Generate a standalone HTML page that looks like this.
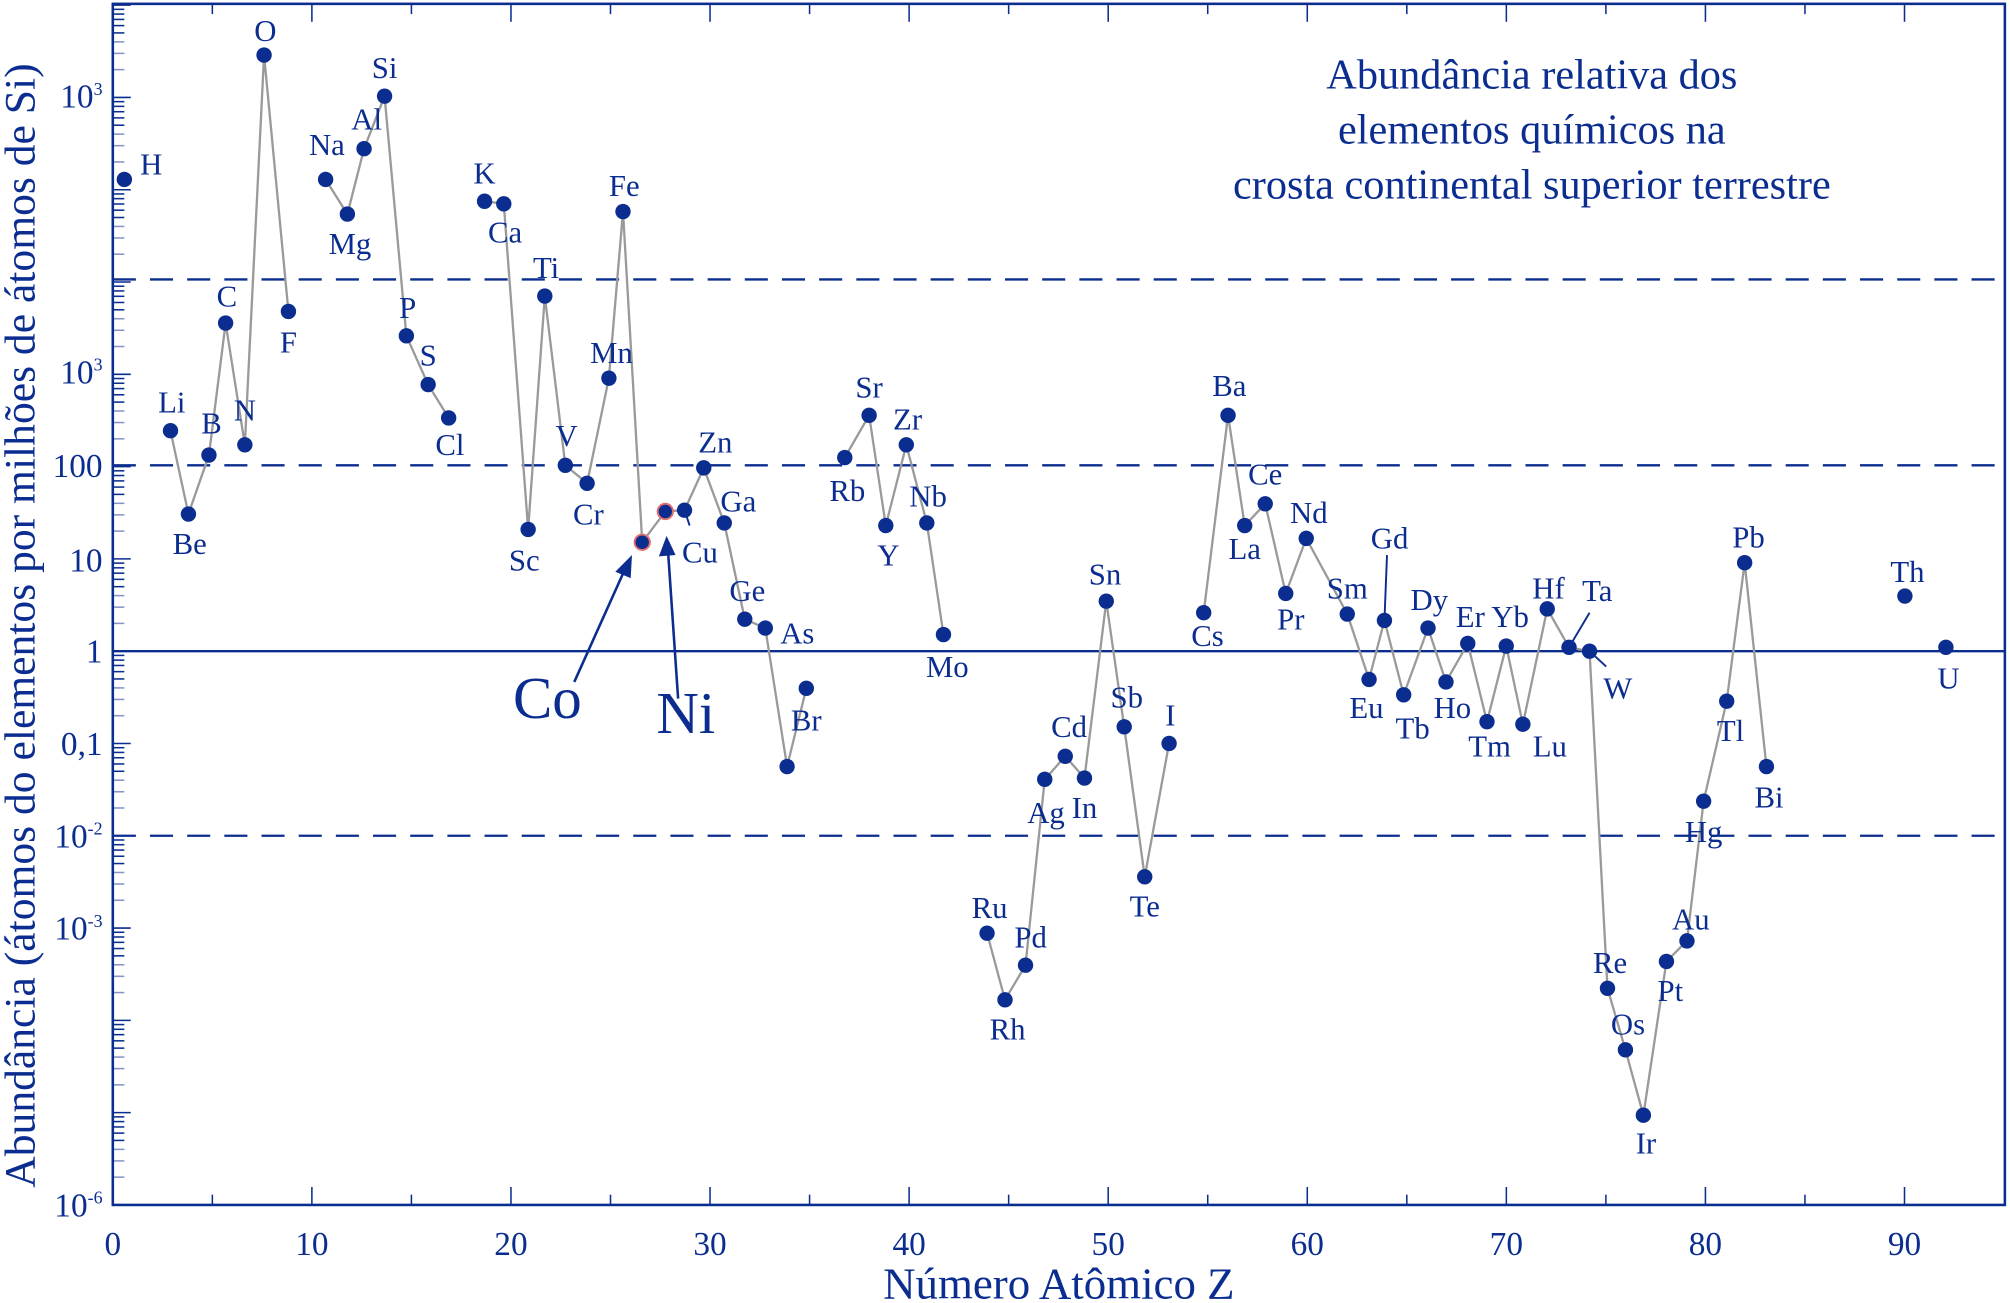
<!DOCTYPE html>
<html><head><meta charset="utf-8"><style>
html,body{margin:0;padding:0;background:#fff;}
svg{display:block;}
text{font-family:"Liberation Serif",serif;fill:#0b2d8f;}
</style></head><body>
<svg width="2010" height="1303" viewBox="0 0 1568 1016.5" preserveAspectRatio="none" xmlns="http://www.w3.org/2000/svg">
<g stroke="#0b2d8f" fill="none">
<rect x="88" y="3" width="1476" height="937" stroke-width="2"/>
<line x1="88" y1="218" x2="1564" y2="218" stroke-width="1.8" stroke-dasharray="18,11"/>
<line x1="88" y1="363" x2="1564" y2="363" stroke-width="1.8" stroke-dasharray="18,11"/>
<line x1="88" y1="652" x2="1564" y2="652" stroke-width="1.8" stroke-dasharray="18,11"/>
<line x1="88" y1="508" x2="1564" y2="508" stroke-width="1.8"/>
</g>
<g id="ticks" stroke="#0b2d8f" stroke-width="1.2"></g>
<g id="lines" stroke="#9a9a9a" stroke-width="1.8" fill="none"></g>
<g id="pts" fill="#0b2d8f"></g>
<g id="labs" font-size="24" text-anchor="middle"></g>
<g stroke="#0b2d8f" stroke-width="1.5">
<line x1="1080" y1="484" x2="1082" y2="433"/>
<line x1="1224" y1="505" x2="1240" y2="478"/>
<line x1="1240" y1="508" x2="1253" y2="520"/>
<line x1="534" y1="398" x2="538" y2="410"/>
<line x1="448" y1="532" x2="488" y2="443" stroke-width="2"/>
<line x1="529" y1="545" x2="521" y2="428" stroke-width="2"/>
</g>
<polygon points="493,433 480,446 492,451" fill="#0b2d8f"/>
<polygon points="520,418 514,434 527,433" fill="#0b2d8f"/>
<text x="427" y="560" font-size="46" text-anchor="middle">Co</text>
<text x="535" y="572" font-size="46" text-anchor="middle">Ni</text>
<g font-size="33" text-anchor="middle">
<text x="1195" y="69">Abundância relativa dos</text>
<text x="1195" y="112">elementos químicos na</text>
<text x="1195" y="155">crosta continental superior terrestre</text>
</g>
<g font-size="26" text-anchor="end">
<text x="80" y="84">10<tspan font-size="14" dy="-10">3</tspan></text>
<text x="80" y="299">10<tspan font-size="14" dy="-10">3</tspan></text>
<text x="80" y="372">100</text>
<text x="80" y="446">10</text>
<text x="80" y="517">1</text>
<text x="80" y="589">0,1</text>
<text x="80" y="661">10<tspan font-size="14" dy="-10">-2</tspan></text>
<text x="80" y="733">10<tspan font-size="14" dy="-10">-3</tspan></text>
<text x="80" y="949">10<tspan font-size="14" dy="-10">-6</tspan></text>
</g>
<g font-size="26" text-anchor="middle" id="xl"></g>
<text x="826" y="1013" font-size="35" text-anchor="middle">Número Atômico Z</text>
<text transform="translate(27,488) rotate(-90)" font-size="34" text-anchor="middle">Abundância (átomos do elementos por milhões de átomos de Si)</text>
<script>
var NS="http://www.w3.org/2000/svg";
function el(p,t,a,txt){var e=document.createElementNS(NS,t);for(var k in a)e.setAttribute(k,a[k]);if(txt)e.textContent=txt;document.getElementById(p).appendChild(e);return e;}
for(var d=-6;d<=9;d++){var y0=508-72*d;if(y0<3||y0>940)continue;el("ticks","line",{x1:88,y1:y0,x2:102,y2:y0});
for(var m=2;m<=9;m++){var y=y0-72*Math.log10(m);if(y>3&&y<940)el("ticks","line",{x1:88,y1:y,x2:97,y2:y,"stroke-opacity":m<5?0.5:1});}}
for(var z=5;z<=90;z+=5){var x=88+z*15.53;var L=z%10==0?14:8;el("ticks","line",{x1:x,y1:940,x2:x,y2:940-L});el("ticks","line",{x1:x,y1:3,x2:x,y2:3+L});
if(z%10==0)el("xl","text",{x:x,y:979},""+z);}
el("xl","text",{x:88,y:979},"0");
var P={H:[97,140],Li:[133,336],Be:[147,401],B:[163,355],C:[176,252],N:[191,347],O:[206,43],F:[225,243],Na:[254,140],Mg:[271,167],Al:[284,116],Si:[300,75],P:[317,262],S:[334,300],Cl:[350,326],K:[378,157],Ca:[393,159],Sc:[412,413],Ti:[425,231],V:[441,363],Cr:[458,377],Mn:[475,295],Fe:[486,165],Co:[501,423],Ni:[519,399],Cu:[534,398],Zn:[549,365],Ga:[565,408],Ge:[581,483],As:[597,490],Se:[614,598],Br:[629,537],Rb:[659,357],Sr:[678,324],Y:[691,410],Zr:[707,347],Nb:[723,408],Mo:[736,495],Ru:[770,728],Rh:[784,780],Pd:[800,753],Ag:[815,608],Cd:[831,590],In:[846,607],Sn:[863,469],Sb:[877,567],Te:[893,684],I:[912,580],Cs:[939,478],Ba:[958,324],La:[971,410],Ce:[987,393],Pr:[1003,463],Nd:[1019,420],Sm:[1051,479],Eu:[1068,530],Gd:[1080,484],Tb:[1095,542],Dy:[1114,490],Ho:[1128,532],Er:[1145,502],Tm:[1160,563],Yb:[1175,504],Lu:[1188,565],Hf:[1207,475],Ta:[1224,505],W:[1240,508],Re:[1254,771],Os:[1268,819],Ir:[1282,870],Pt:[1300,750],Au:[1316,734],Hg:[1329,625],Tl:[1347,547],Pb:[1361,439],Bi:[1378,598],Th:[1486,465],U:[1518,505]};
var G=[["Li","Be","B","C","N","O","F"],["Na","Mg","Al","Si","P","S","Cl"],["K","Ca","Sc","Ti","V","Cr","Mn","Fe","Co","Ni","Cu","Zn","Ga","Ge","As","Se","Br"],["Rb","Sr","Y","Zr","Nb","Mo"],["Ru","Rh","Pd","Ag","Cd","In","Sn","Sb","Te","I"],["Cs","Ba","La","Ce","Pr","Nd","Sm","Eu","Gd","Tb","Dy","Ho","Er","Tm","Yb","Lu","Hf","Ta","W","Re","Os","Ir","Pt","Au","Hg","Tl","Pb","Bi"]];
G.forEach(function(g){el("lines","polyline",{points:g.map(function(k){return P[k].join(",")}).join(" ")});});
for(var k in P){var a={cx:P[k][0],cy:P[k][1],r:6};if(k=="Co"||k=="Ni"){a.stroke="#e07070";a["stroke-width"]=1.5;}el("pts","circle",a);}
var L={H:[118,136],Li:[134,322],Be:[148,432],B:[165,338],C:[177,239],N:[191,328],O:[207,32],F:[225,275],Na:[255,121],Mg:[273,198],Al:[286,101],Si:[300,61],P:[318,248],S:[334,285],Cl:[351,355],K:[378,143],Ca:[394,189],Sc:[409,445],Ti:[426,217],V:[442,348],Cr:[459,409],Mn:[477,283],Fe:[487,153],Cu:[546,439],Zn:[558,353],Ga:[576,399],Ge:[583,469],As:[622,502],Br:[629,570],Rb:[661,391],Sr:[678,310],Y:[693,441],Zr:[708,335],Nb:[724,395],Mo:[739,528],Ru:[772,716],Rh:[786,811],Pd:[804,739],Ag:[816,642],Cd:[834,575],In:[846,638],Sn:[862,456],Sb:[879,552],Te:[893,715],I:[913,566],Cs:[942,504],Ba:[959,309],La:[971,436],Ce:[987,378],Pr:[1007,491],Nd:[1021,408],Sm:[1051,467],Eu:[1066,560],Gd:[1084,428],Tb:[1102,576],Dy:[1115,476],Ho:[1133,560],Er:[1147,489],Tm:[1162,590],Yb:[1178,489],Lu:[1209,590],Hf:[1208,467],Ta:[1246,469],W:[1262,545],Re:[1256,759],Os:[1270,807],Ir:[1284,900],Pt:[1303,781],Au:[1319,725],Hg:[1329,657],Tl:[1350,578],Pb:[1364,427],Bi:[1380,630],Th:[1488,454],U:[1520,537]};
for(var k in L)el("labs","text",{x:L[k][0],y:L[k][1]},k);
</script>
</svg>
</body></html>
